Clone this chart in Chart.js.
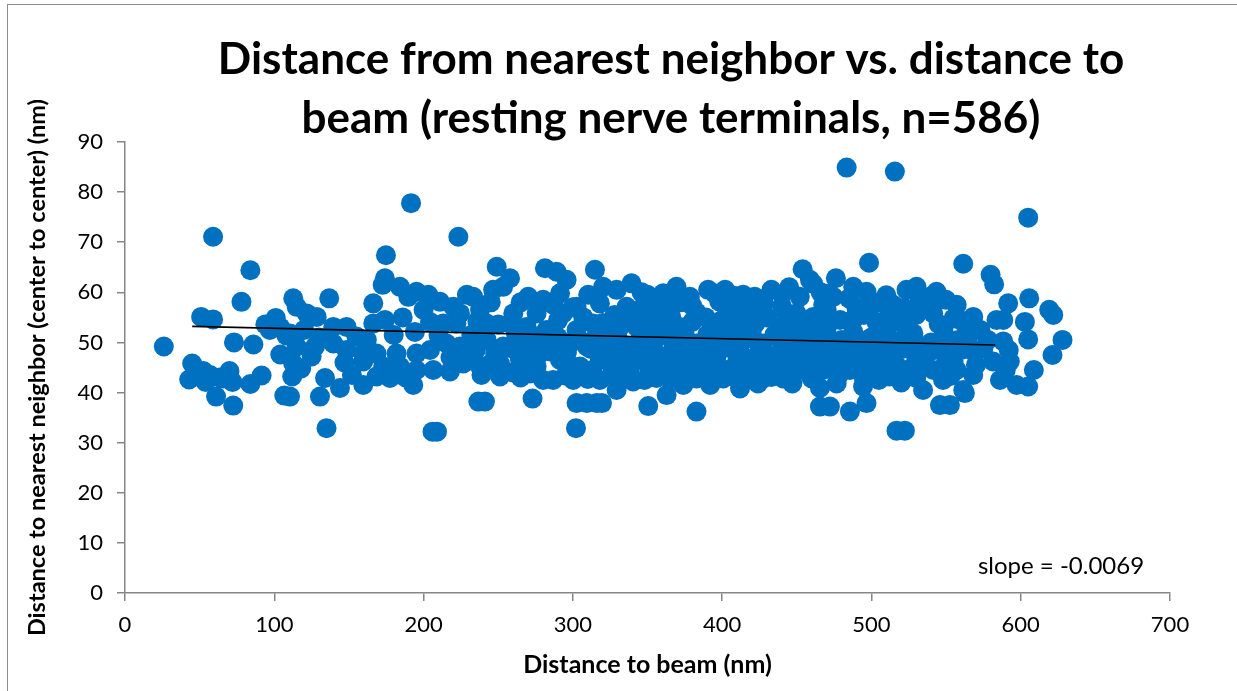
<!DOCTYPE html>
<html>
<head>
<meta charset="utf-8">
<title>Distance from nearest neighbor vs. distance to beam</title>
<script src="https://cdn.jsdelivr.net/npm/chart.js@4/dist/chart.umd.min.js"></script>
<style>
  html, body { margin: 0; padding: 0; background: #fff; }
  #wrap { width: 1237px; height: 691px; }
</style>
</head>
<body>
<div id="wrap"><canvas id="scatterChart" width="1237" height="691"></canvas></div>
<script>
// Values (distance to beam, nm)
const beamDist = [
  // left group
  26, 45, 43, 52.5, 54, 59, 51, 59, 61, 63.5, 70, 72, 72.5, 73, 78, 84, 84, 86, 91.5, 94,
  101, 104, 106.7, 108, 112, 112.7, 66, 57, 97, 104,
  // 110 - 230
  115, 121.7, 128.4, 136.8, 139.5, 148.4, 155, 166.3, 174.1, 194.2, 204.3, 213.2, 222,
  110.5, 115, 127.3, 139.5, 148.4, 159.6, 168.5, 181.9, 195.3, 204.3, 215.4, 224.4,
  159.6, 173, 184.2, 195.3, 206.5, 217.7, 226.6, 112.7, 118, 134, 144, 130.6, 159.6, 168.5,
  177.5, 193.1, 135, 206, 209, 110.5, 174.8, 174.1, 172.6, 184.2, 189.8, 195.3, 203.2, 211,
  220, 229, 166.3, 191.6, 223.3, 120, 130, 180, 186, 200, 210, 218, 162, 147, 152, 125, 188,
  // 225 - 345
  249, 257.9, 281.3, 289.1, 295.8, 314.8, 233.2, 246.6, 253.3, 270.1, 280.1, 291.4, 310.3,
  320.3, 329.3, 339.3, 224.4, 237.8, 260.1, 275.7, 293.5, 302.5, 318.1, 336, 242.2, 257.9,
  269, 282.4, 302.5, 313.6, 331.5, 342.7, 232, 242.2, 253.3, 269, 282.4, 298.1, 309.3, 322.7,
  336, 237.8, 251.2, 264.6, 275.7, 291.4, 304.8, 318.1, 331.5, 342.7, 238.8, 251.2, 271.3,
  280.1, 286.8, 300.2, 318.1, 329.3, 340.4, 236.7, 241.1, 273, 302.5, 309.3, 316, 319.5,
  302.1, 262, 290, 316, 328, 248, 263, 277, 296, 326, 260, 313, 326, 287, 307, 265, 324, 232, 245,
  // 340 - 460
  453.9, 346, 369.4, 390.6, 360.5, 351.6, 378.4, 414.1, 421.8, 433, 444.9, 458.8, 342.7,
  360.5, 382.8, 405.2, 423.1, 440.9, 449.8, 349.4, 371.7, 394, 416.4, 438.7, 345, 353.9,
  367.2, 382.8, 398.5, 411.9, 427.5, 443.1, 456.5, 345, 360.5, 378.4, 396.3, 414.1, 432,
  449.8, 338.2, 351.6, 371.7, 387.4, 403, 418.6, 436.5, 452.1, 348, 365, 382.8, 400.7,
  409.6, 427.5, 440.9, 447, 362.8, 350.5, 382.8, 360, 375, 390, 405, 420, 435, 450, 352,
  366, 389, 410, 430, 447, 357, 372, 398, 428, 402, 385, 420, 440, 356, 392, 424, 374, 412,
  // 450 - 570
  483.4, 515.7, 498.4, 561.5, 466, 461, 476.2, 487.8, 496.7, 523.5, 530.2, 543.6, 474.4,
  490, 467.7, 514.6, 532.5, 557.1, 461, 479, 503.4, 521.3, 541.4, 568.2, 456, 470, 487.8,
  510.2, 528.1, 548.2, 563.8, 458.4, 478.9, 496.7, 514.6, 532.5, 552.6, 568.2, 458, 467.7,
  485.6, 503.4, 523.5, 541.4, 557.1, 570, 465.5, 476.7, 494.4, 534.6, 561.5, 465.5, 472.2,
  485.6, 496.7, 545.9, 552.6, 516.8, 522.4, 462, 480, 500, 520, 540, 558, 475, 492, 510,
  530, 550, 505, 520, 548, 485, 505, 550, 495, 512, 530, 555,
  // 560 - 630
  605, 579.8, 582.2, 605.7, 591.6, 619.1, 621.8, 583.8, 588.3, 602.8, 573, 588.3, 605, 628,
  621.3, 575, 581.5, 592.7, 568.2, 586.1, 608.8, 597.2, 605, 562.6, 590, 592, 578,
  // dense band, 230 - 570
  300, 345, 380, 415, 440, 470, 500, 522, 540,
  236, 250, 290, 320, 336, 360, 380, 400, 422, 445, 465, 488, 520, 545, 560,
  240, 275, 305, 330, 348, 368, 398, 415, 440, 455, 470, 490, 510, 528, 548, 565,
  235, 258, 285, 312, 340, 352, 372, 390, 405, 425, 440, 455, 470, 488, 505, 522, 540, 560,
  245, 270, 298, 325, 335, 365, 378, 395, 410, 428, 448, 466, 480, 498, 516, 535, 555,
  265, 295, 310, 335, 356, 390, 417, 433, 460, 478, 495, 512, 530, 553,
  350, 365, 395, 408, 440, 452, 470, 510, 540
];

// Distance to nearest neighbor (center to center, nm), same order as beamDist
const neighborDist = [
  // left group
  49.2, 45.8, 42.6, 44.3, 42.1, 71.1, 55.1, 54.6, 39.2, 43, 44.3, 42.1, 37.4, 50, 58.1, 64.4, 41.7, 49.6, 43.4, 53.6,
  54.9, 47.6, 39.4, 51.4, 43.2, 58.8, 42.8, 43.5, 52.5, 53,
  // 110 - 230
  57.1, 55.8, 55.1, 58.8, 53.1, 53.1, 51.2, 53.8, 54.5, 52.1, 54.1, 53.8, 53.8,
  51.8, 49.2, 49.2, 49.8, 48.5, 47.8, 47.8, 47.8, 47.8, 48.5, 49.8, 49.2,
  46.2, 45.2, 45.2, 44.5, 44.5, 44.2, 45.8, 45.8, 44.8, 42.9, 40.9, 39.2, 41.5, 43.2,
  42.9, 41.5, 32.9, 32.2, 32.2, 39.2, 67.4, 62.8, 61.5, 61.1, 59.1, 60.1, 59.5, 58.1,
  57.1, 59.5, 57.8, 77.8, 71.1, 52.5, 51, 51.5, 55, 56.5, 51.5, 47, 50.5, 46, 43.5, 47.2, 43,
  // 225 - 345
  65.1, 62.8, 64.8, 64.1, 62.5, 64.5, 59.1, 60.5, 61.1, 59.1, 58.5, 59.8, 59.5,
  61.1, 60.5, 61.8, 55.8, 56.5, 55.8, 55.8, 55.8, 57.1, 57.8, 57.1, 53.8, 53.8,
  53.1, 52.5, 52.5, 53.8, 53.1, 53.1, 51.5, 50.5, 49.2, 49.8, 49.2, 49.8, 49.2, 49.8,
  49.2, 45.2, 45.8, 46.5, 45.2, 46.5, 45.2, 46.5, 45.5, 46.5, 43.5, 43.2, 43.8,
  42.5, 42.5, 42.5, 42.5, 40.5, 42.2, 38.2, 38.2, 38.8, 37.9, 37.9, 37.9, 37.9,
  32.9, 51.5, 51, 51.5, 55.5, 47.8, 48, 47.5, 48, 47.5, 44, 44.5, 43.5, 57.5, 55, 58, 52, 47.5, 58,
  // 340 - 460
  64.6, 60, 61.1, 60.5, 59.8, 59.1, 59.1, 59.5, 59.1, 60.5, 61, 62.5, 56,
  56.5, 56, 56.5, 56, 56.5, 55.8, 53.1, 53.1, 53.1, 53.1, 53.1, 50.5, 49.8,
  49.8, 49.8, 49.8, 49.8, 49.8, 49.8, 49.8, 47.2, 47.2, 47.2, 47.2, 47.2, 47.2,
  47.2, 44.5, 44.5, 44.5, 44.5, 44.5, 44.5, 44.5, 44.5, 42.5, 42.8, 42.8, 42.8,
  42.8, 42.8, 42.8, 41.8, 39.5, 37.3, 36.2, 51.5, 51.5, 51.5, 51.5, 51.5, 51.5, 51.5, 55,
  55, 55, 54.8, 55, 54, 57.8, 58, 58.2, 57.8, 60.5, 45.8, 46, 46, 46, 41.5, 41.8, 41.5, 40.8,
  // 450 - 570
  84.9, 84.1, 65.9, 65.7, 60, 61.7, 62.8, 61.1, 60.1, 60.5, 61.1, 60.1, 59.1,
  56.8, 57.5, 57.5, 58.5, 57.5, 55.1, 54.5, 54.1, 54.5, 55.8, 55.1, 53, 52.8, 52.1,
  52.5, 51.8, 52.5, 51.8, 48.2, 48.2, 48.2, 48.2, 48.2, 48.2, 48.2, 45.5, 44.5,
  44.5, 44.5, 44.5, 44.5, 44.5, 45.5, 40.9, 41.8, 41.2, 40.5, 40.5, 37.2, 37.2,
  36.2, 37.9, 37.5, 37.5, 32.4, 32.4, 50.5, 50.5, 51, 50.5, 50, 50.5, 46.5, 46, 46.2,
  46.5, 46.2, 42.5, 42, 42.5, 58.8, 58, 58.5, 55.5, 55.8, 55.5, 54.8,
  // 560 - 630
  74.9, 63.5, 61.6, 58.8, 57.8, 56.5, 55.5, 54.5, 54.5, 54.1, 52.5, 50.2, 50.6, 50.5,
  47.5, 48.8, 46.2, 46.2, 43.5, 42.5, 44.5, 41.5, 41.2, 39.9, 44.5, 48.5, 50.5,
  // dense band, 230 - 570
  57, 56.6, 57.3, 56.8, 57.2, 56.5, 57.4, 56.9, 57.1,
  54.2, 53.6, 54.4, 53.9, 54.6, 53.8, 54.1, 54.5, 53.7, 54.3, 53.9, 54.6, 54, 53.7, 54.4,
  50.8, 51.2, 50.4, 51, 50.6, 51.3, 50.9, 50.5, 51.1, 50.7, 51.4, 50.8, 50.3, 51, 50.6, 51.2,
  48.5, 48.9, 48.2, 48.7, 48.4, 48.8, 48.1, 48.6, 48.9, 48.3, 48.7, 48.4, 48.9, 48.2, 48.6, 48.8, 48.3, 48.5,
  45.8, 46.1, 45.5, 45.9, 46.2, 45.6, 46, 45.7, 46.3, 45.5, 45.9, 46.1, 45.6, 46, 45.8, 45.4, 46.2,
  43, 43.4, 42.7, 43.2, 42.9, 43.3, 42.6, 43.1, 42.8, 43.4, 42.7, 43.2, 42.9, 43.3,
  59.5, 59.2, 59.8, 59.3, 59.6, 59.1, 59.7, 59.4, 59.2
];

// Linear trendline end points (slope = -0.0069)
const trendBeam = [45, 583];
const trendNeighbor = [53.2, 49.5];

const xTickValues = [0, 100, 200, 300, 400, 500, 600, 700];
const yTickValues = [0, 10, 20, 30, 40, 50, 60, 70, 80, 90];

const titleLines = ['Distance from nearest neighbor vs. distance to', 'beam (resting nerve terminals, n=586)'];
const slopeNote = 'slope = -0.0069';

Chart.defaults.font.family = 'Lato, "Liberation Sans", sans-serif';
Chart.defaults.color = '#000';

const points = beamDist.map((x, i) => ({ x: x, y: neighborDist[i] }));
const trend = trendBeam.map((x, i) => ({ x: x, y: trendNeighbor[i] }));

// background, outer frame, title and slope note
const decor = {
  id: 'decor',
  beforeDraw(chart) {
    const ctx = chart.ctx;
    ctx.save();
    ctx.fillStyle = '#fff';
    ctx.fillRect(0, 0, chart.width, chart.height);
    ctx.strokeStyle = '#8c8c8c';
    ctx.lineWidth = 1;
    ctx.strokeRect(7.5, 4.5, chart.width + 10, chart.height + 10);
    ctx.restore();
  },
  afterDraw(chart) {
    const ctx = chart.ctx;
    ctx.save();
    ctx.fillStyle = '#000';
    ctx.textAlign = 'center';
    ctx.textBaseline = 'middle';
    ctx.font = 'bold 44px Lato, "Liberation Sans", sans-serif';
    ctx.fillText(titleLines[0], 671, 60);
    ctx.fillText(titleLines[1], 671, 119);
    ctx.font = '24px Lato, "Liberation Sans", sans-serif';
    ctx.fillText(slopeNote, 1061, 566);
    ctx.restore();
  }
};

const axisGray = '#868686';

new Chart(document.getElementById('scatterChart').getContext('2d'), {
  type: 'scatter',
  data: {
    datasets: [
      {
        type: 'line',
        label: 'Trendline',
        data: trend,
        borderColor: '#000',
        borderWidth: 1.6,
        pointRadius: 0,
        fill: false
      },
      {
        label: 'Nerve terminals',
        data: points,
        backgroundColor: '#0070C0',
        borderColor: '#0070C0',
        borderWidth: 0,
        pointRadius: 10,
        pointHoverRadius: 10
      }
    ]
  },
  options: {
    responsive: false,
    animation: false,
    layout: { padding: { left: 0, right: 67, top: 142, bottom: 0 } },
    plugins: {
      legend: { display: false },
      tooltip: { enabled: false },
      title: { display: false }
    },
    scales: {
      x: {
        type: 'linear',
        position: 'bottom',
        min: 0,
        max: 700,
        afterBuildTicks: s => { s.ticks = xTickValues.map(v => ({ value: v })); },
        afterFit: s => { s.height = 98; },
        ticks: { font: { size: 22 }, padding: 11, maxRotation: 0 },
        grid: { drawOnChartArea: false, drawTicks: true, tickLength: 8, color: axisGray, lineWidth: 1.5 },
        border: { color: axisGray, width: 1.5 },
        title: {
          display: true,
          text: 'Distance to beam (nm)',
          font: { size: 25, weight: 'bold' },
          padding: { top: 0, bottom: 11 }
        }
      },
      y: {
        type: 'linear',
        min: 0,
        max: 90,
        afterBuildTicks: s => { s.ticks = yTickValues.map(v => ({ value: v })); },
        afterFit: s => { s.width = 125; },
        ticks: { font: { size: 22 }, padding: 14 },
        grid: { drawOnChartArea: false, drawTicks: true, tickLength: 8, color: axisGray, lineWidth: 1.5 },
        border: { color: axisGray, width: 1.5 },
        title: {
          display: true,
          text: 'Distance to nearest neighbor (center to center) (nm)',
          font: { size: 23.5, weight: 'bold' },
          padding: { top: 23, bottom: 0 }
        }
      }
    }
  },
  plugins: [decor]
});
</script>
</body>
</html>
